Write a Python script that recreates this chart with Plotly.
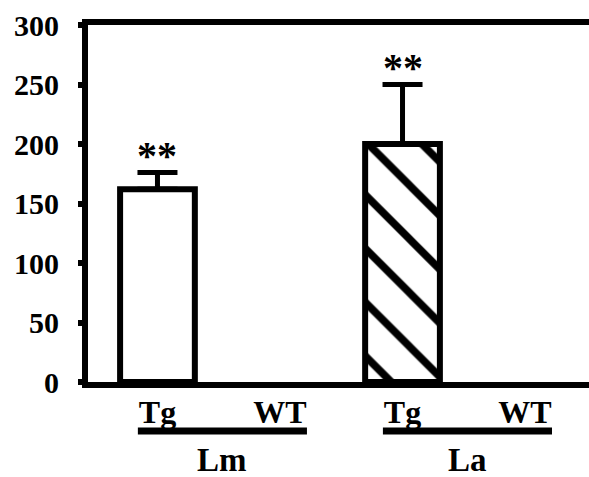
import plotly.graph_objects as go

# ---- data ----
categories = ["Tg", "WT", "Tg", "WT"]
values = [162, 0, 200, 0]
errors = [14, 0, 50, 0]
significance = ["**", "", "**", ""]
patterns = ["", "", "\\", ""]
groups = ["Lm", "La"]
group_members = [[0, 1], [2, 3]]
y_ticks = [0, 50, 100, 150, 200, 250, 300]

FONT = "Times New Roman, Liberation Serif, serif"
x_pos = list(range(len(categories)))

fig = go.Figure()
for i in x_pos:
    has_bar = values[i] > 0
    fig.add_trace(go.Bar(
        x=[x_pos[i]],
        y=[values[i]],
        width=0.61,
        marker=dict(
            color="white",
            line=dict(color="black", width=6 if has_bar else 0),
            pattern=dict(shape=patterns[i], fgcolor="black", bgcolor="white",
                         fgopacity=1, size=38, solidity=0.2, fillmode="overlay"),
        ),
        error_y=dict(type="data", symmetric=False, array=[errors[i]],
                     arrayminus=[0], color="black", thickness=5, width=20,
                     visible=errors[i] > 0),
        showlegend=False,
    ))

for i, s in enumerate(significance):
    if s:
        fig.add_annotation(x=x_pos[i], y=values[i] + errors[i], text="<b>" + s + "</b>",
                           showarrow=False, yanchor="bottom", yshift=-7,
                           font=dict(family=FONT, size=40, color="black"))

for g, members in zip(groups, group_members):
    x0 = members[0] - 0.16
    x1 = members[-1] + 0.22
    fig.add_shape(type="line", xref="x", yref="paper", x0=x0, x1=x1,
                  y0=-0.137, y1=-0.137, line=dict(color="black", width=7))
    fig.add_annotation(x=(x0 + x1) / 2, y=-0.218, xref="x", yref="paper",
                       text="<b>" + g + "</b>", showarrow=False, yanchor="middle",
                       font=dict(family=FONT, size=33, color="black"))

fig.update_layout(
    width=589, height=477,
    margin=dict(l=88, r=0, t=25, b=95),
    plot_bgcolor="white", paper_bgcolor="white",
    barmode="overlay",
)
fig.update_xaxes(
    range=[-0.567, 3.522], tickvals=x_pos, ticktext=["<b>" + c + "</b>" for c in categories],
    showline=True, linewidth=6, linecolor="black", mirror=True,
    ticks="", showgrid=False, zeroline=False,
    tickfont=dict(family=FONT, size=32, color="black"),
    ticklabelstandoff=-3,
)
fig.update_yaxes(
    range=[0, 300], tickvals=y_ticks, ticktext=["<b>%d</b>" % t for t in y_ticks],
    showline=True, linewidth=6, linecolor="black", mirror=False,
    ticks="outside", ticklen=4, tickwidth=6, tickcolor="black",
    showgrid=False, zeroline=False,
    tickfont=dict(family=FONT, size=30, color="black"),
    ticklabelstandoff=13,
)

fig.write_html("out.html")
